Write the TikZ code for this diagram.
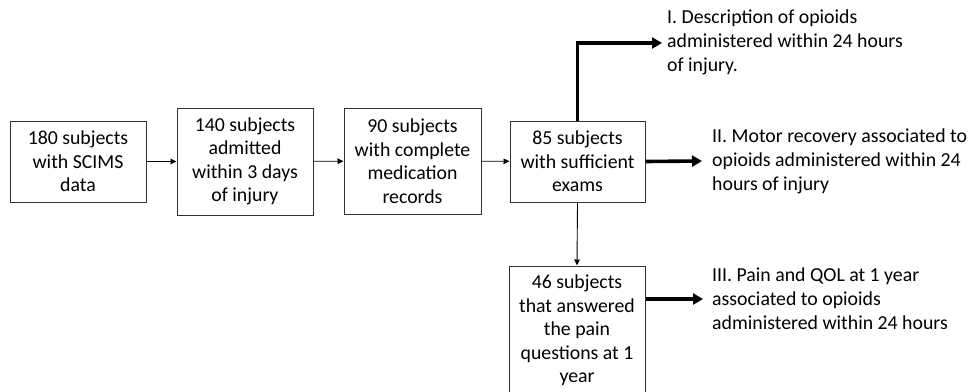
\documentclass[tikz,border=0pt]{standalone}
\usepackage{fontspec}
\setmainfont{Carlito}
\usetikzlibrary{arrows.meta}
\begin{document}
\begin{tikzpicture}[x=1pt,y=1pt,
  box/.style={draw=black!80, line width=1pt, align=center, inner sep=0pt,
     font=\fontsize{19.8}{23.5}\selectfont},
  outtext/.style={anchor=west, align=left, inner sep=0pt,
     font=\fontsize{19.8}{24}\selectfont},
  thin/.style={line width=0.9pt, -{Triangle[length=6pt,width=5.5pt]}},
  thick/.style={line width=3.6pt, line join=miter, -{Triangle[length=10pt,width=11pt]}}]
\useasboundingbox (0,0) rectangle (969,-391);
\node[box, minimum width=136pt, minimum height=81pt] (b1) at (78,-161.5)
  {180 subjects\\with SCIMS\\data};
\node[box, minimum width=136pt, minimum height=107pt] (b2) at (245,-161.5)
  {140 subjects\\admitted\\within 3 days\\of injury};
\node[box, minimum width=137pt, minimum height=106pt] (b3) at (412.5,-161)
  {90 subjects\\with complete\\medication\\records};
\node[box, minimum width=135pt, minimum height=81pt] (b4) at (577.5,-161.5)
  {85 subjects\\with sufficient\\exams};
\node[box, minimum width=136pt, minimum height=129pt] (b5) at (577,-330.5)
  {46 subjects\\that answered\\the pain\\questions at 1\\year};
\node[outtext] (t1) at (667,-42)
  {I. Description of opioids\\administered within 24 hours\\of injury.};
\node[outtext] (t2) at (712,-161)
  {II. Motor recovery associated to\\opioids administered within 24\\hours of injury};
\node[outtext] (t3) at (712,-299)
  {III. Pain and QOL at 1 year\\associated to opioids\\administered within 24 hours};
\coordinate (c1) at (577.5,-43);
\draw[thin] (b1) -- (b2);
\draw[thin] (b2) -- (b3);
\draw[thin] (b3) -- (b4);
\draw[thin] (b4.south) -- (b5.north);
\draw[thick] (b4.north) -- (c1) -- ([xshift=-5pt]t1.west |- c1);
\draw[thick] (b4.east) -- ([xshift=-10pt]t2.west);
\draw[thick] (b5.east |- t3.west) -- ([xshift=-9pt]t3.west);
\end{tikzpicture}
\end{document}
